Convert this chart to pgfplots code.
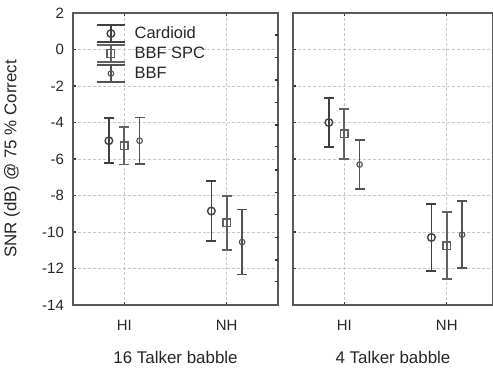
\documentclass[border=0pt]{standalone}
\usepackage{fontspec}
\setmainfont{Liberation Sans}
\usepackage{pgfplots}
\pgfplotsset{compat=1.18}
\pgfplotsset{
  panel/.style={
    scale only axis, height=292bp,
    ymin=-14, ymax=2,
    ytick={-14,-12,-10,-8,-6,-4,-2,0,2},
    xtick={1,2}, xticklabels={HI,NH},
    xmin=0.5,
    grid=major, grid style={densely dashed, black!22, line width=0.6bp},
    axis line style={black!65, line width=1.4bp},
    tick style={black!80, line width=1.2bp},
    major tick length=3bp, tick align=inside,
    tick label style={font=\fontsize{15}{18}\selectfont},
    xticklabel style={anchor=center, yshift=-20bp, text=black!85},
    yticklabel style={text=black!85, xshift=-4bp},
    label style={font=\fontsize{17}{20}\selectfont},
    xlabel style={at={(axis description cs:0.5,0)}, anchor=center, yshift=-52bp, text=black!85},
  },
  ebar/.style={only marks, line width=1.6bp,
    error bars/.cd, y dir=both, y explicit,
    error bar style={line width=1.7bp},
    error mark options={rotate=90, mark size=5bp, line width=1.7bp}},
  cardioid/.style={black!75, mark=o, mark size=3.8bp, mark options={fill=white, line width=1.4bp, solid}, ebar},
  spc/.style={black!62, mark=square, mark size=3.8bp, mark options={fill=white, line width=1.4bp, solid}, ebar},
  bbf/.style={black!68, mark=o, mark size=2.8bp, mark options={fill=white, line width=1.1bp, solid}, ebar},
}
\begin{document}
\fontsize{15}{18}\selectfont
\begin{tikzpicture}
\path[use as bounding box] (-73bp,-66bp) rectangle (420bp,305bp);
\begin{axis}[panel, width=205bp, xmax=2.5,
  ytick pos=left,
  yticklabels={-14,-12,-10,-8,-6,-4,-2,0,2},
  xtick pos=both,
  xlabel={16 Talker babble},
  ylabel={SNR (dB) @ 75 \% Correct},
  ylabel style={at={(axis description cs:-0.2976,0.5)}, anchor=center, text=black!85},
  legend style={at={(0.112,0.962)}, anchor=north west, draw=none, fill=none,
    row sep=1.5bp, column sep=4bp, inner sep=0pt, font=\fontsize{16.5}{19}\selectfont,
    nodes={text=black!85, inner xsep=5bp, inner ysep=2bp, anchor=west}},
  legend image code/.code={
    \draw[#1, mark=none, line width=1.5bp] (0bp,8.5bp) -- (28bp,8.5bp) (0bp,-8.5bp) -- (28bp,-8.5bp) (14bp,-8.5bp) -- (14bp,8.5bp);
    \draw[#1] plot coordinates {(14bp,0bp)};
  },
]
\addplot+[cardioid] coordinates {(0.85,-5.0) +- (0,1.23) (1.85,-8.85) +- (0,1.63)};
\addlegendentry{Cardioid}
\addplot+[spc] coordinates {(1,-5.28) +- (0,1.02) (2,-9.5) +- (0,1.47)};
\addlegendentry{BBF SPC}
\addplot+[bbf] coordinates {(1.15,-5.0) +- (0,1.27) (2.15,-10.55) +- (0,1.78)};
\addlegendentry{BBF}
\end{axis}
% right-side ticks of the left panel
\begin{axis}[scale only axis, width=205bp, height=292bp, ymin=-14, ymax=2, xmin=0.5, xmax=2.5,
  axis x line=none, axis y line*=right, axis line style={draw=none},
  ytick={0.795,-0.427,-1.671,-2.893,-4.137,-5.326,-6.603,-7.825,-9.03,-10.29,-11.534,-12.723},
  yticklabels={}, tick align=inside, major tick length=3bp,
  tick style={black!80, line width=1.2bp}]
\end{axis}
\begin{axis}[panel, at={(220bp,0bp)}, width=200bp, xmax=2.451,
  yticklabels={}, ytick pos=left, xtick pos=both,
  xlabel={4 Talker babble},
]
\addplot+[cardioid] coordinates {(0.85,-4.0) +- (0,1.35) (1.85,-10.3) +- (0,1.83)};
\addplot+[spc] coordinates {(1,-4.63) +- (0,1.36) (2,-10.75) +- (0,1.83)};
\addplot+[bbf] coordinates {(1.15,-6.3) +- (0,1.33) (2.15,-10.15) +- (0,1.83)};
\end{axis}
\end{tikzpicture}
\end{document}
